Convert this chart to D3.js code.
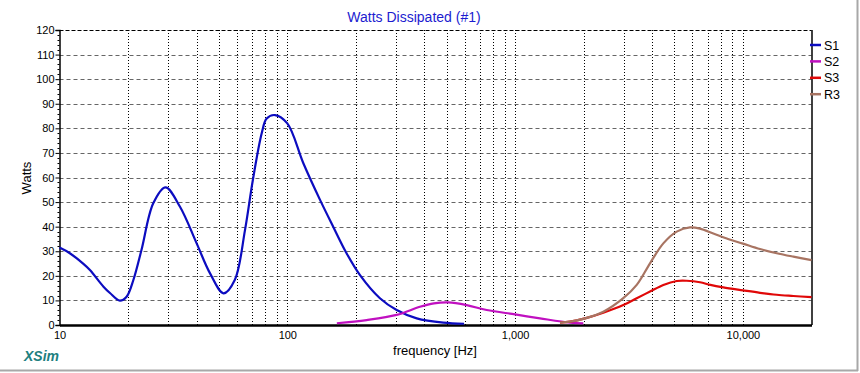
<!DOCTYPE html>
<html><head><meta charset="utf-8">
<script src="https://cdn.jsdelivr.net/npm/d3@7"></script>
<style>body{margin:0;background:#fff}svg{display:block}text{font-family:"Liberation Sans",Arial,sans-serif}</style>
</head><body><svg id="c" width="860" height="373"></svg>
<script>
const seriesNames = ["S1","S2","S3","R3"];
const seriesColors = ["#0c0cc0","#c010c0","#e00808","#a87462"];
const s1 = [[10,31.5],[11.1,29.2],[12.7,25],[13.6,22.4],[15.6,15.6],[16.7,12.9],[18.4,9.9],[19.7,11.5],[21.1,18.3],[22.9,30.5],[25.8,49.5],[29.2,56],[33.8,48.1],[40,33.2],[45.8,21],[52.5,12.9],[58.8,18.3],[65.2,38.6],[70.6,59],[77.2,78],[81.2,84],[88.3,85.4],[100,82],[117.6,65.8],[139.2,50.9],[159,40],[182,29.2],[208.5,20.3],[255,10.9],[302,6.1],[370,2.7],[484,0.95],[597,0.5]];
const s2 = [[165,0.7],[223,2],[302,4.1],[382,7.4],[440,8.8],[509,9.2],[613,8.1],[750,6.1],[1000,4.3],[1286,2.7],[1742,0.95],[1993,0.7]];
const s3 = [[1574,0.95],[1742,1.35],[2027,2.7],[2439,5.0],[2985,8.1],[3418,10.9],[3910,13.6],[4473,16.3],[5121,17.9],[5666,18],[6480,17.4],[7200,16.3],[8200,15.3],[10000,14.1],[11885,13.1],[14073,12.3],[16650,11.8],[20000,11.3]];
const r3 = [[1574,0.95],[1742,1.35],[2027,2.7],[2439,5.4],[2985,10.9],[3418,16.3],[3910,25.1],[4473,33.2],[5121,38],[5854,39.7],[6480,39.2],[7413,37.2],[8600,35],[10000,33.1],[11885,30.9],[14073,29.2],[16650,27.8],[20000,26.4]];
const seriesData = [s1,s2,s3,r3];
const yTicks = [0,10,20,30,40,50,60,70,80,90,100,110,120];
const xLabelTicks = [10,100,1000,10000];
const xGridTicks = [20,30,40,50,60,70,80,90,100,200,300,400,500,600,700,800,900,1000,2000,3000,4000,5000,6000,7000,8000,9000,10000];

const svg = d3.select("#c");
const L=59.5, R=811.5, T=30, B=325;
const x = d3.scaleLog().domain([10,20000]).range([L,R]);
const y = d3.scaleLinear().domain([0,120]).range([B,T]);

// outer frame shadow
svg.append("line").attr("x1",0).attr("x2",858).attr("y1",370.5).attr("y2",370.5).attr("stroke","#a8a8a8").attr("stroke-width",2);
svg.append("line").attr("x1",857.5).attr("x2",857.5).attr("y1",0).attr("y2",371).attr("stroke","#a8a8a8").attr("stroke-width",2);

// horizontal grid
svg.append("g").selectAll("line").data(yTicks.filter(d=>d>0&&d<120)).join("line")
  .attr("x1",L).attr("x2",R).attr("y1",d=>Math.round(y(d))+0.5).attr("y2",d=>Math.round(y(d))+0.5)
  .attr("stroke","#666").attr("stroke-dasharray","4,3");
// vertical grid
svg.append("g").selectAll("line").data(xGridTicks).join("line")
  .attr("x1",d=>Math.round(x(d))+0.5).attr("x2",d=>Math.round(x(d))+0.5).attr("y1",T).attr("y2",B)
  .attr("stroke","#000").attr("stroke-dasharray","1,2");
// top border dashed
svg.append("line").attr("x1",L).attr("x2",R).attr("y1",T+0.5).attr("y2",T+0.5).attr("stroke","#000").attr("stroke-dasharray","4,2");
// right border
svg.append("line").attr("x1",R+0.5).attr("x2",R+0.5).attr("y1",T).attr("y2",B).attr("stroke","#000").attr("stroke-width",1.5);

// y axis
const yAxis = d3.axisLeft(y).tickValues(yTicks).tickSize(4).tickPadding(1).tickFormat(d3.format("d"));
const gy = svg.append("g").attr("transform",`translate(${L},0)`).call(yAxis);
gy.select(".domain").attr("stroke","#000").attr("stroke-width",1.5);
gy.selectAll("text").attr("font-size",11).attr("fill","#000");
const yMinor = d3.range(0,121,2).filter(d=>d%10!==0);
svg.append("g").selectAll("line").data(yMinor).join("line")
  .attr("x1",L-2).attr("x2",L).attr("y1",d=>Math.round(y(d))+0.5).attr("y2",d=>Math.round(y(d))+0.5).attr("stroke","#000");

// x axis
const xAxis = d3.axisBottom(x).tickValues(xLabelTicks).tickSize(0).tickPadding(6).tickFormat(d3.format(","));
const gx = svg.append("g").attr("transform",`translate(0,${B})`).call(xAxis);
gx.select(".domain").attr("stroke","#000").attr("stroke-width",2.5);
gx.selectAll("text").attr("font-size",11).attr("fill","#000");

// lines
const line = d3.line().x(d=>x(d[0])).y(d=>y(d[1])).curve(d3.curveCatmullRom.alpha(0.5));
svg.append("g").selectAll("path").data(seriesData).join("path")
  .attr("d",line).attr("fill","none").attr("stroke",(d,i)=>seriesColors[i]).attr("stroke-width",2.2).attr("stroke-linejoin","round");

// legend
const lg = svg.append("g").selectAll("g").data(seriesNames).join("g")
  .attr("transform",(d,i)=>`translate(810,${45+i*16.4})`);
lg.append("line").attr("x1",0).attr("x2",11).attr("y1",0).attr("y2",0).attr("stroke",(d,i)=>seriesColors[i]).attr("stroke-width",2.5);
lg.append("text").attr("x",14).attr("y",4.5).attr("font-size",12.5).text(d=>d);

// titles
svg.append("text").attr("x",414).attr("y",22).attr("text-anchor","middle").attr("font-size",14).attr("fill","#1c1cd0").text("Watts Dissipated (#1)");
svg.append("text").attr("x",435).attr("y",355).attr("text-anchor","middle").attr("font-size",13).attr("fill","#000").text("frequency [Hz]");
svg.append("text").attr("transform","translate(31,178) rotate(-90)").attr("text-anchor","middle").attr("font-size",13).attr("fill","#000").text("Watts");
svg.append("text").attr("x",24).attr("y",361).attr("font-size",14).attr("font-weight","bold").attr("font-style","italic").attr("fill","#1e8080").text("XSim");
</script></body></html>
